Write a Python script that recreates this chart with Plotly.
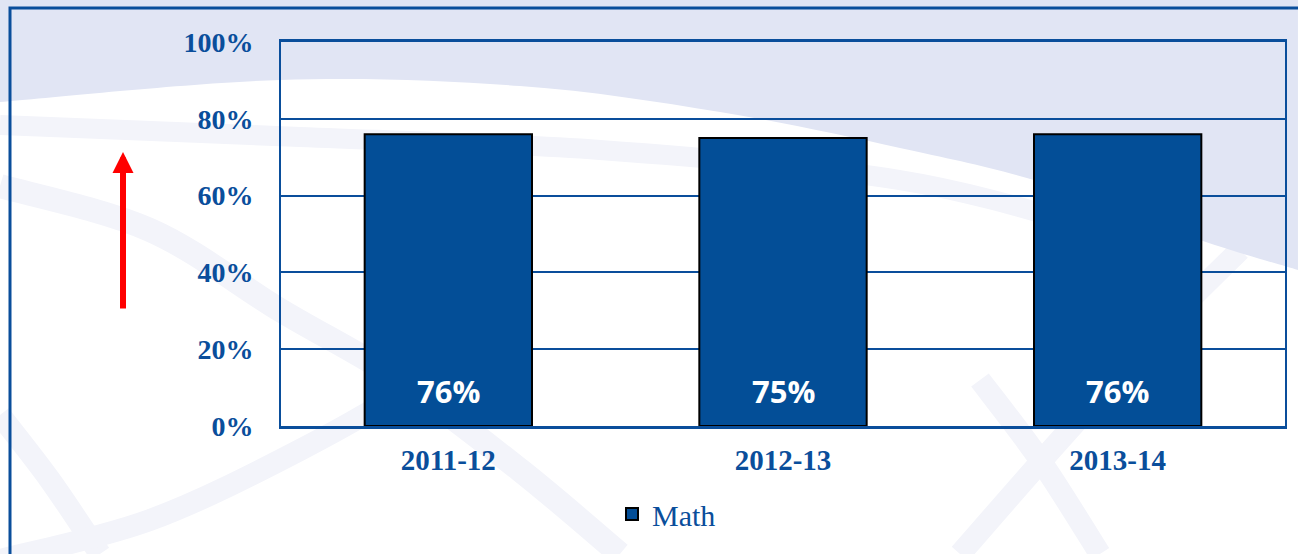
import plotly.graph_objects as go

# ---- data ----
categories = ["2011-12", "2012-13", "2013-14"]
math_values = [0.76, 0.75, 0.76]
math_labels = ["76%", "75%", "76%"]
y_tickvals = [0, 0.2, 0.4, 0.6, 0.8, 1.0]
y_ticktext = ["0%", "20%", "40%", "60%", "80%", "100%"]

# ---- geometry helpers (pixel -> paper) ----
W, H = 1298, 554
L, R, T, B = 281, 13, 42, 128
PW, PH = W - L - R, H - T - B


def px(x, y):
    return (x - L) / PW, (H - B - y) / PH


def smooth_path(pts, close_extra=None):
    """Catmull-Rom through pixel points -> SVG path in paper coords."""
    P = [px(*p) for p in pts]
    d = f"M {P[0][0]:.4f},{P[0][1]:.4f}"
    for i in range(len(P) - 1):
        p0 = P[i - 1] if i > 0 else P[i]
        p1, p2 = P[i], P[i + 1]
        p3 = P[i + 2] if i + 2 < len(P) else P[i + 1]
        c1 = (p1[0] + (p2[0] - p0[0]) / 6, p1[1] + (p2[1] - p0[1]) / 6)
        c2 = (p2[0] - (p3[0] - p1[0]) / 6, p2[1] - (p3[1] - p1[1]) / 6)
        d += f" C {c1[0]:.4f},{c1[1]:.4f} {c2[0]:.4f},{c2[1]:.4f} {p2[0]:.4f},{p2[1]:.4f}"
    if close_extra:
        for q in close_extra:
            qq = px(*q)
            d += f" L {qq[0]:.4f},{qq[1]:.4f}"
        d += " Z"
    return d


BLUE = "#0A4E9B"
BAR = "#034E97"
LAV = "#E1E5F4"
FAINT = "#F3F4FA"

shapes = []
# faint decorative arcs
arcs = [
    ([(0, 125), (300, 137), (600, 150), (900, 180), (1100, 230)], 20),
    ([(0, 186), (150, 230), (280, 310), (400, 380), (520, 470), (620, 554)], 24),
    ([(0, 415), (50, 480), (100, 554)], 22),
    ([(0, 560), (150, 520), (300, 450), (420, 380), (520, 300)], 22),
    ([(980, 380), (1040, 460), (1100, 554)], 22),
    ([(960, 554), (1060, 440), (1160, 330), (1240, 250)], 22),
]
for pts, w in arcs:
    shapes.append(dict(type="path", xref="paper", yref="paper", layer="below",
                       path=smooth_path(pts), line=dict(color=FAINT, width=w)))
# lavender top region
boundary = [(0, 102), (280, 80), (520, 86), (720, 112), (900, 148),
            (1040, 182), (1200, 240), (1298, 270)]
shapes.append(dict(type="path", xref="paper", yref="paper", layer="below",
                   path=smooth_path(boundary, close_extra=[(1298, 0), (0, 0)]),
                   fillcolor=LAV, line=dict(width=0)))
# outer frame
x0, y0 = px(10, 8)
x1, y1 = px(1310, 570)
shapes.append(dict(type="rect", xref="paper", yref="paper", layer="above",
                   x0=x0, y0=y1, x1=x1, y1=y0,
                   line=dict(color=BLUE, width=3), fillcolor="rgba(0,0,0,0)"))

fig = go.Figure()
fig.add_trace(go.Bar(
    x=categories, y=math_values, name="Math",
    marker=dict(color=BAR, line=dict(color="#000000", width=2)),
))

annotations = []
# value labels near the bottom of each bar
for c, lab in zip(categories, math_labels):
    annotations.append(dict(x=c, y=0, xref="x", yref="y", text=lab,
                            showarrow=False, yanchor="bottom", yshift=12,
                            font=dict(family="Open Sans", size=31, color="white",
                                      weight="bold")))

# red arrow
tip_x, tip_y = px(123, 152)
annotations.append(dict(xref="paper", yref="paper", x=tip_x, y=tip_y,
                        axref="pixel", ayref="pixel", ax=0, ay=158,
                        showarrow=True, arrowhead=2, arrowsize=0.7, arrowwidth=6,
                        arrowcolor="#FF0000", text=""))

lx, ly = px(612, 488)
fig.update_layout(
    width=W, height=H,
    margin=dict(l=L, r=R, t=T, b=B, pad=0, autoexpand=False),
    paper_bgcolor="white", plot_bgcolor="rgba(0,0,0,0)",
    bargap=0.5,
    shapes=shapes, annotations=annotations,
    showlegend=True,
    legend=dict(x=lx, y=ly, xanchor="left", yanchor="top", orientation="h",
                bgcolor="rgba(0,0,0,0)",
                font=dict(family="Liberation Serif", size=30, color=BLUE)),
    font=dict(family="Liberation Serif", color=BLUE),
    xaxis=dict(type="category", showgrid=False, showline=True, linecolor=BLUE, linewidth=3,
               mirror=True, ticks="", ticklabelstandoff=6, automargin=False,
               tickfont=dict(family="Liberation Serif", size=29, color=BLUE, weight="bold")),
    yaxis=dict(range=[0, 1], tickvals=y_tickvals, ticktext=y_ticktext,
               showgrid=True, gridcolor=BLUE, gridwidth=2, automargin=False,
               showline=True, linecolor=BLUE, linewidth=2, mirror=True,
               zeroline=False, ticks="", ticklabelstandoff=20,
               tickfont=dict(family="Liberation Serif", size=28, color=BLUE, weight="bold")),
)

fig.write_html("out.html", config={"displayModeBar": False},
               post_script="document.body.style.margin='0';document.body.style.overflow='hidden';")
